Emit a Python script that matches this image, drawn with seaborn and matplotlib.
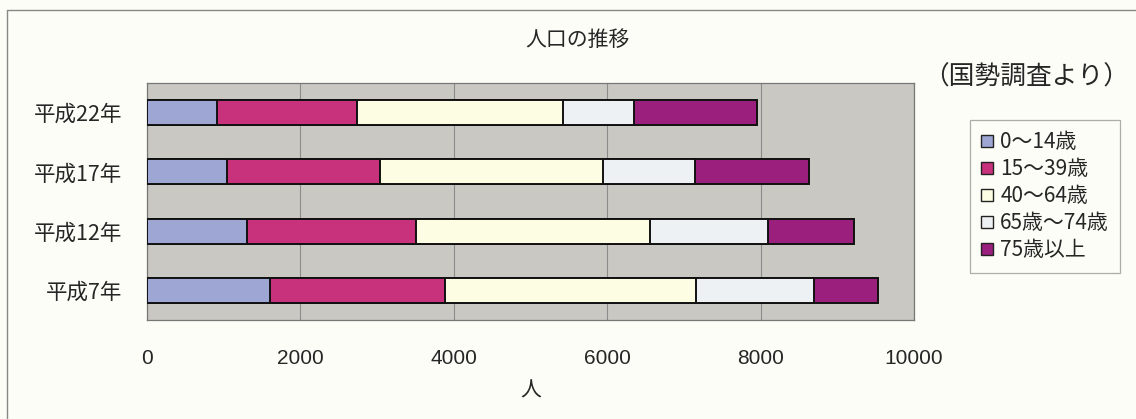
import numpy as np
import pandas as pd
import matplotlib
matplotlib.use("Agg")
import matplotlib.pyplot as plt
import matplotlib.patches as mpatches
import seaborn as sns

# Data (人)
years = ["平成22年", "平成17年", "平成12年", "平成7年"]
age_groups = ["0～14歳", "15～39歳", "40～64歳", "65歳～74歳", "75歳以上"]
age_0_14 = [910, 1040, 1300, 1605]
age_15_39 = [1825, 2000, 2205, 2285]
age_40_64 = [2695, 2900, 3055, 3270]
age_65_74 = [925, 1200, 1530, 1540]
age_75_up = [1595, 1490, 1130, 825]
colors = ["#9ea6d4", "#c8327c", "#fdfde3", "#eef1f4", "#9b1f7c"]

sns.set_style("white")
plt.rcParams['font.family'] = ['Noto Sans CJK JP', 'DejaVu Sans']

df = pd.DataFrame({"year": years, age_groups[0]: age_0_14, age_groups[1]: age_15_39,
                   age_groups[2]: age_40_64, age_groups[3]: age_65_74, age_groups[4]: age_75_up})
cum = df[age_groups].cumsum(axis=1)

fig = plt.figure(figsize=(11.36, 4.19), dpi=100)
fig.patch.set_facecolor("#fdfdf7")
ax = fig.add_axes([147 / 1136, 1 - 320 / 419, 767 / 1136, 237 / 419])
ax.set_facecolor("#c9c8c3")

# stacked bars: draw cumulative totals from largest to smallest
for i in range(len(age_groups) - 1, -1, -1):
    sns.barplot(x=cum[age_groups[i]], y=df["year"], order=years, orient="h",
                color=colors[i], saturation=1, width=0.42,
                edgecolor="#111111", linewidth=1.4, ax=ax, zorder=3)

ax.set_xlim(0, 10000)
ax.set_ylim(3.5, -0.5)
ax.set_xticks(np.arange(0, 10001, 2000))
ax.xaxis.grid(True, color="#8c8c8c", linewidth=0.8, zorder=0)
ax.set_axisbelow(True)
ax.tick_params(axis="x", length=0, pad=21, labelsize=15)
for lab in ax.get_xticklabels():
    lab.set_family(["Liberation Sans", "DejaVu Sans"])
ax.tick_params(axis="y", length=0, pad=18, labelsize=15.5)
ax.set_yticks([0.5, 1.5, 2.5], minor=True)
ax.tick_params(axis="y", which="minor", length=3, direction="in", color="#777777")
ax.set_xlabel("人", fontsize=15, labelpad=8)
ax.set_ylabel("")
for s in ax.spines.values():
    s.set_color("#777777")
    s.set_linewidth(0.9)

fig.text(577 / 1136, 1 - 40 / 419, "人口の推移", ha="center", va="center", fontsize=15)
fig.text(1026 / 1136, 1 - 78 / 419, "（国勢調査より）", ha="center", va="center", fontsize=18.5)

handles = [mpatches.Patch(facecolor=c, edgecolor="#222222", linewidth=1.0, label=g)
           for c, g in zip(colors, age_groups)]
leg = fig.legend(handles=handles, loc="upper left", bbox_to_anchor=(970 / 1136, 1 - 120 / 419),
                 fontsize=15, frameon=True, fancybox=False, borderaxespad=0,
                 handlelength=0.55, handleheight=0.55, handletextpad=0.35,
                 labelspacing=0.24, borderpad=0.55)
leg.get_frame().set_edgecolor("#999999")
leg.get_frame().set_facecolor("#fdfdf7")
leg.get_frame().set_linewidth(0.9)

# outer frame of the chart
fig.add_artist(plt.Line2D([7 / 1136, 1], [1 - 10 / 419] * 2, color="#888888", linewidth=1.0))
fig.add_artist(plt.Line2D([7 / 1136] * 2, [0, 1 - 10 / 419], color="#888888", linewidth=1.0))

fig.savefig("out.png", dpi=100, facecolor=fig.get_facecolor())
